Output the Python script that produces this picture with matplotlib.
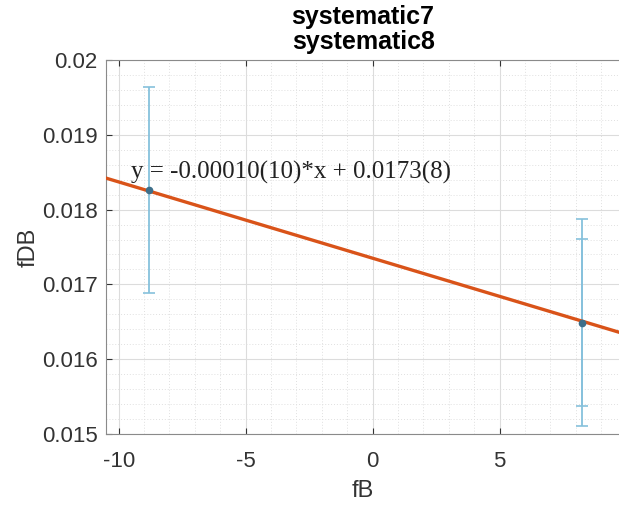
import numpy as np
import matplotlib.pyplot as plt
from matplotlib.ticker import MultipleLocator

plt.switch_backend('agg')
plt.rcParams['axes.unicode_minus'] = False
plt.rcParams['font.family'] = 'Liberation Sans'

# data
fB = [-8.8, 8.25]
fDB = [0.01826, 0.01649]
err_outer = [0.00138, 0.00138]
err_inner = [0.0, 0.00112]
slope = -0.000102
intercept = 0.01735
fit_label = "y = -0.00010(10)*x + 0.0173(8)"

fig = plt.figure(figsize=(6.19, 5.05), dpi=100)
ax = fig.add_axes([106/619, 1 - 434/505, 1 - 106/619 + 0.002, (434 - 60)/505])

ax.set_xlim(-10.5, 9.75)
ax.set_ylim(0.015, 0.02)

ax.xaxis.set_major_locator(MultipleLocator(5))
ax.xaxis.set_minor_locator(MultipleLocator(1))
ax.yaxis.set_major_locator(MultipleLocator(0.001))
ax.yaxis.set_minor_locator(MultipleLocator(0.0002))
ax.grid(which='major', color='#dcdcdc', lw=0.8)
ax.grid(which='minor', color='#e0e0e0', lw=0.7, ls=(0, (1, 2)))
ax.set_axisbelow(True)

xl = np.array(ax.get_xlim())
ax.plot(xl, slope*xl + intercept, color='#D95319', lw=2.4, zorder=3)

ax.errorbar(fB, fDB, yerr=err_outer, fmt='none', ecolor='#86c1dc',
            elinewidth=1.3, capsize=4, capthick=1.2, zorder=2)
ax.errorbar(fB[1:], fDB[1:], yerr=err_inner[1:], fmt='none', ecolor='#86c1dc',
            elinewidth=1.3, capsize=4, capthick=1.2, zorder=2)
ax.plot(fB, fDB, 'o', ms=4.5, color='#3e6f8a', zorder=4)

ax.text(-9.5, 0.0185, fit_label, family='Liberation Serif', fontsize=18,
        va='center', ha='left', color='#222222', zorder=5)

ax.set_title("systematic7\nsystematic8", fontsize=18, fontweight='bold',
             pad=8, linespacing=1.05)
ax.set_xlabel("fB", fontsize=17, color='#333333', labelpad=6)
ax.set_ylabel("fDB", fontsize=17, color='#333333', labelpad=2)

ax.tick_params(which='both', direction='in', top=True, right=False,
               labelsize=16, colors='#333333', length=4, pad=6)
ax.tick_params(axis='x', pad=12)
ax.tick_params(which='minor', length=0)
for s in ['left', 'bottom', 'top']:
    ax.spines[s].set_color('#8a8a8a')
ax.spines['right'].set_visible(False)

ax.yaxis.set_major_formatter(plt.FuncFormatter(lambda v, p: "0.02" if abs(v - 0.02) < 1e-9 else f"{v:.3f}"))

fig.savefig("out.png", dpi=100)
